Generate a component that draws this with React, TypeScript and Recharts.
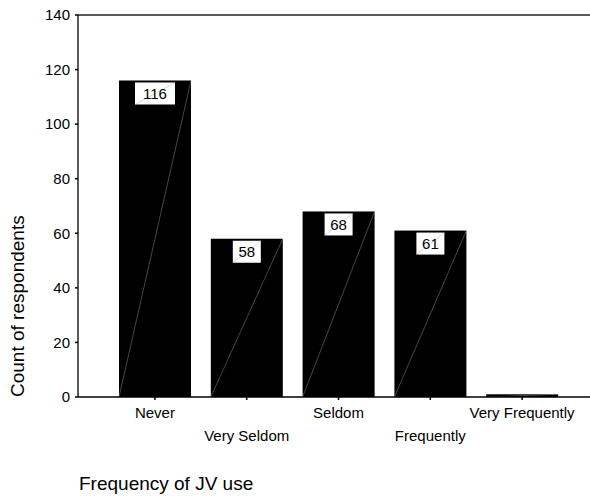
import React from "react";
import { BarChart, Bar, XAxis, YAxis, ReferenceLine, LabelList, Label } from "recharts";

// Frequency of JV use — counts
const categories = ["Never", "Very Seldom", "Seldom", "Frequently", "Very Frequently"];
const counts = [116, 58, 68, 61, 1];
const yTicks = [0, 20, 40, 60, 80, 100, 120, 140];

const data = categories.map((name, i) => ({ name, count: counts[i] }));

const FONT = "'Liberation Sans', Arial, sans-serif";
const TICK_SIZE = 15;

// black bar with the thin light diagonal seen in the original export
const HatchBar = (props: any) => {
  const { x, y, width, height } = props;
  if (!height || height <= 0) return null;
  return (
    <g>
      <rect x={x} y={y} width={width} height={height} fill="#000" />
      <line x1={x} y1={y + height} x2={x + width} y2={y} stroke="#8a8a8a" strokeWidth={0.5} />
    </g>
  );
};

const BoxLabel = (props: any) => {
  const { x, y, width, value } = props;
  if (value == null || value < 10) return null;
  const txt = String(value);
  const w = txt.length * 12 + 4;
  const h = 22;
  const cx = x + width / 2;
  const top = y + 2;
  return (
    <g>
      <rect x={cx - w / 2} y={top} width={w} height={h} fill="#fff" />
      <line x1={cx - w / 2} y1={top + h} x2={cx + w / 2} y2={top} stroke="#b0b0b0" strokeWidth={0.5} />
      <text x={cx} y={top + 16.5} textAnchor="middle" fontFamily={FONT} fontSize={TICK_SIZE} fill="#000">
        {txt}
      </text>
    </g>
  );
};

// staggered category labels (two rows)
const StaggerTick = (props: any) => {
  const { x, y, payload, index } = props;
  const dy = index % 2 === 0 ? 18 : 40.5;
  return (
    <text x={x} y={y + dy} textAnchor="middle" fontFamily={FONT} fontSize={TICK_SIZE} fill="#000">
      {payload.value}
    </text>
  );
};

export default function App() {
  return (
    <div style={{ position: "absolute", left: 0, top: 0, width: 590, height: 496, background: "#fff" }}>
      <BarChart width={590} height={496} data={data} margin={{ top: 15, right: 0, bottom: 0, left: 0 }} barSize={72}>
        <ReferenceLine y={140} stroke="#222" strokeWidth={1.4} />
        <XAxis
          dataKey="name"
          height={99}
          interval={0}
          padding={{ left: 31, right: 22 }}
          tickSize={3}
          tickMargin={0}
          axisLine={{ stroke: "#000", strokeWidth: 1.3 }}
          tickLine={{ stroke: "#000", strokeWidth: 1.5 }}
          tick={<StaggerTick />}
        >
          <Label
            content={(p: any) => (
              <text x={p.viewBox.x + 1} y={p.viewBox.y + 93} fontFamily={FONT} fontSize={19} fill="#000">
                Frequency of JV use
              </text>
            )}
          />
        </XAxis>
        <YAxis
          width={78}
          domain={[0, 140]}
          ticks={yTicks}
          interval={0}
          tickSize={3}
          tickMargin={5}
          axisLine={{ stroke: "#000", strokeWidth: 1.3 }}
          tickLine={{ stroke: "#000", strokeWidth: 1.5 }}
          tick={{ fill: "#000", fontFamily: FONT, fontSize: TICK_SIZE }}
        >
          <Label
            content={(p: any) => {
              const bx = 24;
              const by = p.viewBox.y + p.viewBox.height;
              return (
                <text
                  x={bx}
                  y={by}
                  transform={`rotate(-90 ${bx} ${by})`}
                  textAnchor="start"
                  fontFamily={FONT}
                  fontSize={19}
                  fill="#000"
                >
                  Count of respondents
                </text>
              );
            }}
          />
        </YAxis>
        <Bar dataKey="count" shape={<HatchBar />} isAnimationActive={false}>
          <LabelList dataKey="count" content={<BoxLabel />} />
        </Bar>
      </BarChart>
    </div>
  );
}
